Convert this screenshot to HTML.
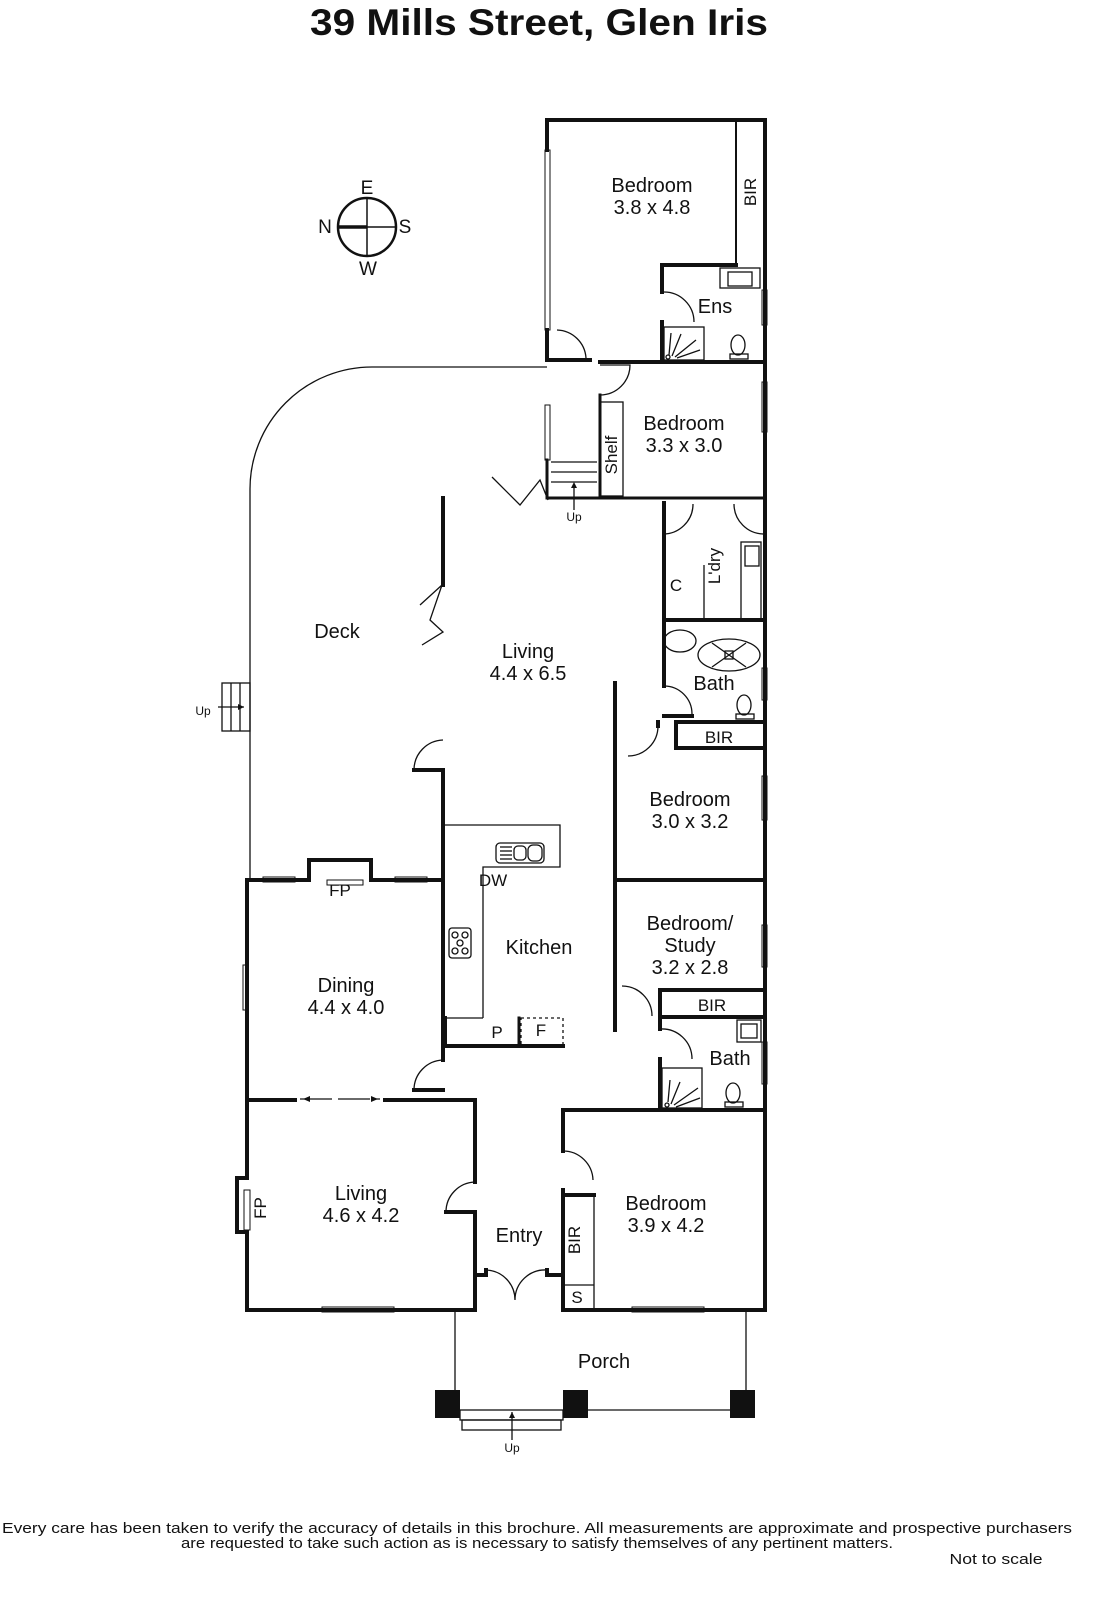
<!DOCTYPE html>
<html><head><meta charset="utf-8"><style>
html,body{margin:0;padding:0;background:#fff;}
svg{display:block;}
text{font-family:"Liberation Sans",sans-serif;fill:#111;}
</style></head><body>
<svg width="1096" height="1600" viewBox="0 0 1096 1600" xmlns="http://www.w3.org/2000/svg">
<text x="539" y="35" font-size="37" font-weight="bold" text-anchor="middle" textLength="458" lengthAdjust="spacingAndGlyphs">39 Mills Street, Glen Iris</text>

<g stroke="#111" fill="none">
<circle cx="367" cy="227" r="29" stroke-width="2.5"/>
<line x1="338" y1="227" x2="396" y2="227" stroke-width="1.5"/>
<line x1="367" y1="198" x2="367" y2="256" stroke-width="1.5"/>
<line x1="338" y1="227" x2="367" y2="227" stroke-width="3.5"/>
</g>
<text x="367" y="194" font-size="19" text-anchor="middle">E</text>
<text x="325" y="233" font-size="19" text-anchor="middle">N</text>
<text x="405" y="233" font-size="19" text-anchor="middle">S</text>
<text x="368" y="275" font-size="19" text-anchor="middle">W</text>

<g stroke="#111" fill="none" stroke-width="1.3">
<path d="M547 367 L372 367 A122 122 0 0 0 250 489 L250 880"/>
<rect x="222" y="683" width="28" height="48"/>
<line x1="231" y1="683" x2="231" y2="731"/><line x1="240" y1="683" x2="240" y2="731"/>
<line x1="218" y1="707" x2="244" y2="707"/>
<line x1="455" y1="1310" x2="455" y2="1392"/>
<line x1="746" y1="1310" x2="746" y2="1392"/>
<line x1="588" y1="1410" x2="730" y2="1410"/>
<rect x="460" y="1410" width="103" height="10"/>
<rect x="462" y="1420" width="99" height="10"/>
<line x1="512" y1="1412" x2="512" y2="1440"/>
<line x1="551" y1="462" x2="597" y2="462"/><line x1="551" y1="472" x2="597" y2="472"/><line x1="551" y1="482" x2="597" y2="482"/>
<line x1="574" y1="485" x2="574" y2="510"/>
<rect x="600" y="402" width="23" height="94"/>
<rect x="720" y="268" width="40" height="20"/><rect x="728" y="272" width="24" height="14"/>
<rect x="664" y="327" width="40" height="33"/>
<ellipse cx="738" cy="345" rx="7" ry="10"/><rect x="730" y="354" width="18" height="5"/>
<path d="M669 355 L671 333 M672 356 L681 334 M675 357 L696 340 M677 358 L700 350"/>
<circle cx="668" cy="357" r="2"/>
<rect x="741" y="542" width="20" height="78"/><rect x="745" y="546" width="14" height="20"/>
<line x1="704" y1="565" x2="704" y2="622"/>
<ellipse cx="680" cy="641" rx="16" ry="11"/>
<ellipse cx="729" cy="655" rx="31" ry="16"/>
<path d="M712 643 L746 667 M746 643 L712 667"/><rect x="725" y="651" width="8" height="8"/>
<ellipse cx="744" cy="705" rx="7" ry="10"/><rect x="736" y="714" width="18" height="5"/>
<path d="M445 825 L560 825 L560 867 L483 867 L483 1018"/>
<rect x="496" y="843" width="48" height="20" rx="4"/>
<line x1="500" y1="847" x2="512" y2="847"/><line x1="500" y1="851" x2="512" y2="851"/><line x1="500" y1="855" x2="512" y2="855"/><line x1="500" y1="859" x2="512" y2="859"/>
<rect x="514" y="846" width="12" height="14" rx="4"/><rect x="528" y="845" width="14" height="16" rx="5"/>
<rect x="449" y="928" width="22" height="30" rx="3"/>
<circle cx="455" cy="935" r="3"/><circle cx="465" cy="935" r="3"/><circle cx="460" cy="943" r="3"/><circle cx="455" cy="951" r="3"/><circle cx="465" cy="951" r="3"/>
<line x1="445" y1="1018" x2="483" y2="1018"/>
<rect x="521" y="1018" width="42" height="28" stroke-dasharray="3,3"/>
<rect x="737" y="1020" width="24" height="22"/><rect x="741" y="1024" width="16" height="14"/>
<rect x="662" y="1068" width="40" height="40"/>
<path d="M668 1102 L670 1080 M671 1104 L680 1082 M674 1105 L698 1088 M676 1107 L700 1098"/><circle cx="667" cy="1105" r="2"/>
<ellipse cx="733" cy="1093" rx="7" ry="10"/><rect x="725" y="1102" width="18" height="5"/>
<line x1="594" y1="1195" x2="594" y2="1310"/>
<line x1="565" y1="1285" x2="594" y2="1285"/>
<line x1="300" y1="1099" x2="380" y2="1099" stroke-dasharray="32,6"/>
<path d="M492 477 L520 505 L540 480 L548 500"/>
<path d="M420 605 L442 585 L430 620 L443 632 L422 645"/>
<path d="M557 330 A30 30 0 0 1 586 358"/>
<path d="M600 365 L630 365 A30 30 0 0 1 600 395"/>
<path d="M664 292 A30 30 0 0 1 694 322"/>
<path d="M662 534 A30 30 0 0 0 693 504"/>
<path d="M764 534 A30 30 0 0 1 734 504"/>
<path d="M664 686 A28 28 0 0 1 692 714"/>
<path d="M658 726 A30 30 0 0 1 628 756"/>
<path d="M622 986 A30 30 0 0 1 652 1016"/>
<path d="M660 1029 A30 30 0 0 1 692 1059"/>
<path d="M443 740 A30 30 0 0 0 414 770"/>
<path d="M443 1060 A30 30 0 0 0 414 1090"/>
<path d="M475 1182 A30 30 0 0 0 446 1212"/>
<path d="M563 1151 A30 30 0 0 1 593 1180"/>
<path d="M486 1270 A30 30 0 0 1 515 1300 A30 30 0 0 1 547 1270"/>
</g>

<g stroke="#111" fill="#fff" stroke-width="1">
<rect x="545" y="150" width="5" height="180"/>
<rect x="545" y="405" width="5" height="55"/>
<rect x="762" y="290" width="5" height="35"/>
<rect x="762" y="382" width="5" height="50"/>
<rect x="762" y="668" width="5" height="32"/>
<rect x="762" y="776" width="5" height="44"/>
<rect x="762" y="925" width="5" height="42"/>
<rect x="762" y="1042" width="5" height="42"/>
<rect x="243" y="965" width="5" height="45"/>
<rect x="263" y="877" width="32" height="5"/>
<rect x="395" y="877" width="32" height="5"/>
<rect x="322" y="1307" width="72" height="5"/>
<rect x="632" y="1307" width="72" height="5"/>
<rect x="327" y="880" width="36" height="5"/>
<rect x="244" y="1190" width="6" height="40"/>
</g>

<g stroke="#111" fill="none" stroke-width="4" stroke-linecap="square">
<path d="M547 150 L547 120 L765 120 L765 1310 L563 1310 L563 1190"/>
<path d="M547 330 L547 360 L590 360 M600 362 L765 362"/>
<line x1="736" y1="120" x2="736" y2="265" stroke-width="2"/>
<path d="M736 265 L662 265 L662 292 M662 322 L662 360"/>
<path d="M547 460 L547 498 L765 498" stroke-width="3"/>
<path d="M600 395 L600 498" stroke-width="3"/>
<path d="M664 503 L664 534 M664 538 L664 620 L765 620"/>
<path d="M664 621 L664 686 M664 716 L692 716"/>
<path d="M676 722 L765 722 M676 722 L676 748 L765 748 M658 722 L658 726"/>
<path d="M615 683 L615 1030"/>
<path d="M615 880 L765 880"/>
<path d="M660 990 L765 990 M660 990 L660 1017 L765 1017 M660 1017 L660 1029 M660 1059 L660 1108"/>
<path d="M563 1110 L765 1110 M563 1110 L563 1151"/>
<path d="M563 1195 L594 1195"/>
<path d="M443 498 L443 585"/>
<path d="M414 770 L443 770 L443 1060 M414 1090 L443 1090"/>
<path d="M247 1310 L247 1232 L237 1232 L237 1178 L247 1178 L247 880 L309 880 L309 860 L371 860 L371 880 L443 880"/>
<path d="M247 1100 L295 1100 M385 1100 L475 1100 L475 1182 M446 1212 L475 1212 L475 1310 L247 1310"/>
<path d="M475 1275 L486 1275 L486 1270 M547 1270 L547 1275 L563 1275"/>
<path d="M563 1285 L563 1310"/>
<path d="M445 1046 L563 1046 M445 1018 L445 1046"/>
<line x1="519" y1="1018" x2="519" y2="1046" stroke-width="3"/>
</g>
<g fill="#111">
<rect x="435" y="1390" width="25" height="28"/>
<rect x="563" y="1390" width="25" height="28"/>
<rect x="730" y="1390" width="25" height="28"/>
<path d="M574 482 l-3 6 h6z M512 1412 l-3 6 h6z M244 707 l-6 -3 v6z M303 1099 l7 -3 v6z M378 1099 l-7 -3 v6z"/>
</g>

<g font-size="20" text-anchor="middle">
<text x="652" y="192">Bedroom</text><text x="652" y="214">3.8 x 4.8</text>
<text x="715" y="313">Ens</text>
<text x="684" y="430">Bedroom</text><text x="684" y="452">3.3 x 3.0</text>
<text x="337" y="638">Deck</text>
<text x="528" y="658">Living</text><text x="528" y="680">4.4 x 6.5</text>
<text x="714" y="690">Bath</text>
<text x="690" y="806">Bedroom</text><text x="690" y="828">3.0 x 3.2</text>
<text x="539" y="954">Kitchen</text>
<text x="690" y="930">Bedroom/</text><text x="690" y="952">Study</text><text x="690" y="974">3.2 x 2.8</text>
<text x="346" y="992">Dining</text><text x="346" y="1014">4.4 x 4.0</text>
<text x="730" y="1065">Bath</text>
<text x="361" y="1200">Living</text><text x="361" y="1222">4.6 x 4.2</text>
<text x="519" y="1242">Entry</text>
<text x="666" y="1210">Bedroom</text><text x="666" y="1232">3.9 x 4.2</text>
<text x="604" y="1368">Porch</text>
</g>
<g font-size="17" text-anchor="middle">
<text x="719" y="743">BIR</text>
<text x="712" y="1011">BIR</text>
<text x="493" y="886">DW</text>
<text x="340" y="896">FP</text>
<text x="497" y="1038">P</text>
<text x="541" y="1036">F</text>
<text x="676" y="591">C</text>
<text x="577" y="1303">S</text>
<text transform="translate(756 192) rotate(-90)">BIR</text>
<text transform="translate(617 455) rotate(-90)">Shelf</text>
<text transform="translate(720 566) rotate(-90)">L'dry</text>
<text transform="translate(580 1240) rotate(-90)">BIR</text>
<text transform="translate(266 1208) rotate(-90)">FP</text>
</g>
<g font-size="12" text-anchor="middle">
<text x="574" y="521">Up</text>
<text x="203" y="715">Up</text>
<text x="512" y="1452">Up</text>
</g>
<g font-size="14.5" text-anchor="middle">
<text x="537" y="1533" textLength="1070" lengthAdjust="spacingAndGlyphs">Every care has been taken to verify the accuracy of details in this brochure.  All measurements are approximate and prospective purchasers</text>
<text x="537" y="1548" textLength="712" lengthAdjust="spacingAndGlyphs">are requested to take such action as is necessary to satisfy themselves of any pertinent matters.</text>
<text x="996" y="1564" textLength="93" lengthAdjust="spacingAndGlyphs">Not to scale</text>
</g>
</svg>
</body></html>
